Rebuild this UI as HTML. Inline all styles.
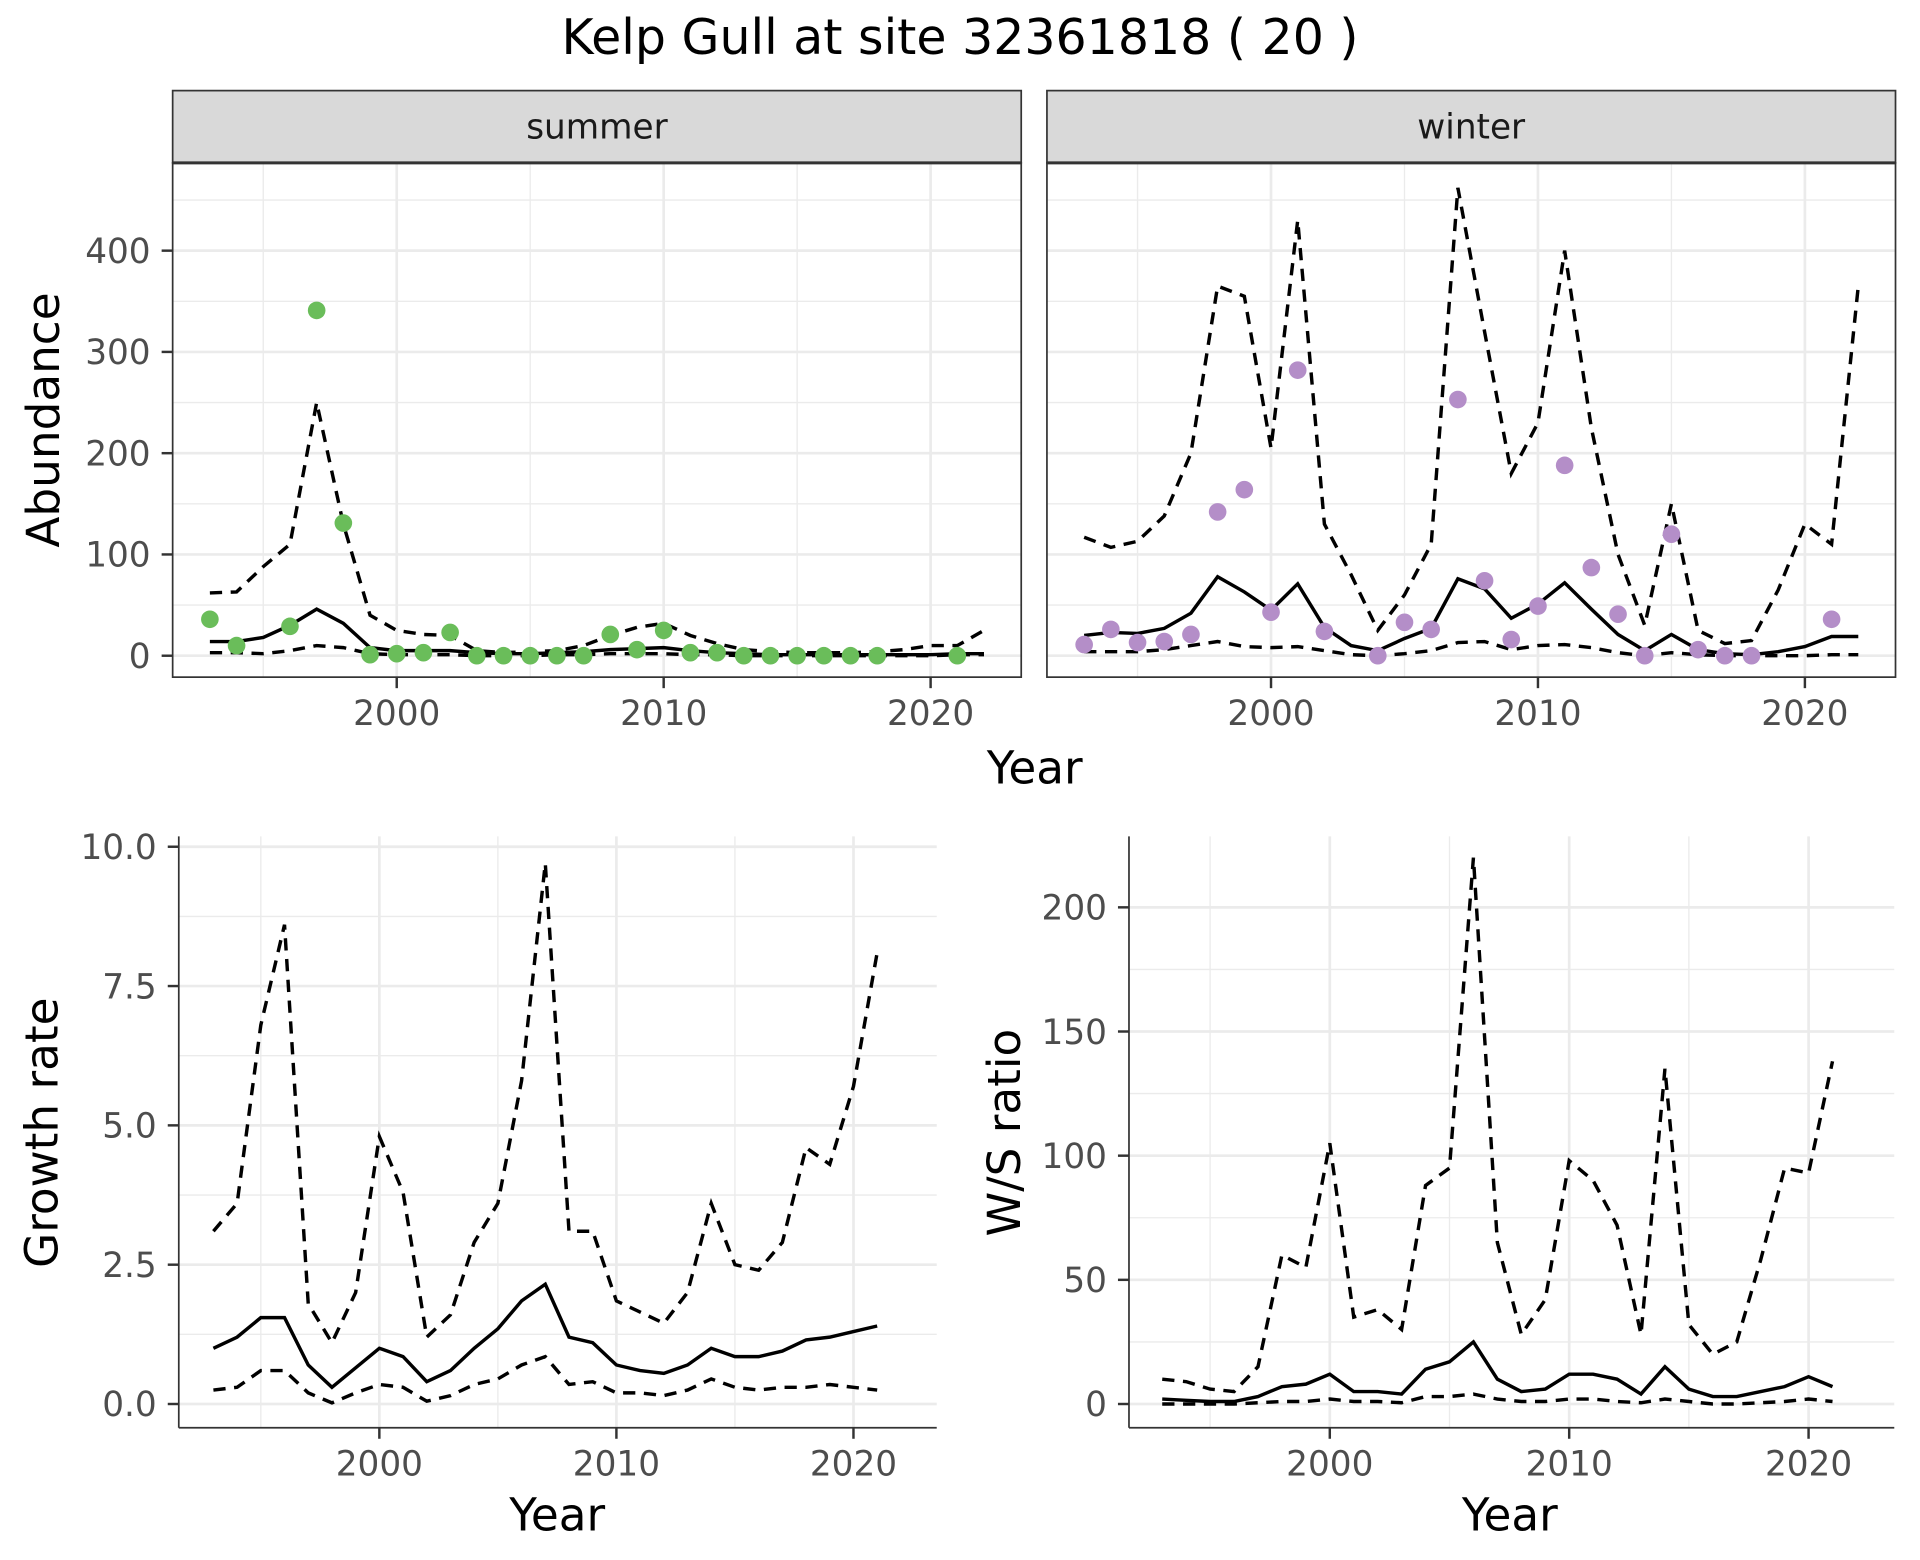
<!DOCTYPE html>
<html><head><meta charset="utf-8"><style>
html,body{margin:0;padding:0;background:#fff}
svg{display:block}
text{font-family:"DejaVu Sans","Liberation Sans",sans-serif}
</style></head><body>
<svg id="chart" width="1920" height="1560" viewBox="0 0 1568 1274" xmlns="http://www.w3.org/2000/svg">
<text x="784" y="44" font-size="40" text-anchor="middle" fill="#000">Kelp Gull at site 32361818 ( 20 )</text>
</svg>
<script>
const years=[];for(let y=1993;y<=2022;y++)years.push(y);
const sumPtYears=[1993,1994,1996,1997,1998,1999,2000,2001,2002,2003,2004,2005,2006,2007,2008,2009,2010,2011,2012,2013,2014,2015,2016,2017,2018,2021];
const sumPtVals=[36,10,29,341,131,1,2,3,23,0,0,0,0,0,21,6,25,3,3,0,0,0,0,0,0,0];
const sumMean=[14,14,18,30,46,32,8,5,5,5,3,2,2,3,4,6,7,8,5,3,2,1,1,1,1,1,1,1,2,2];
const sumUpper=[62,63,88,110,250,130,40,25,21,20,5,3,4,5,10,20,28,32,20,12,6,4,3,3,3,4,6,10,10,25];
const sumLower=[3,3,2,5,10,8,2,1,1,1,0,0,0,1,1,2,2,2,1,1,0,0,0,0,0,0,0,0,1,1];
const winPtYears=[1993,1994,1995,1996,1997,1998,1999,2000,2001,2002,2004,2005,2006,2007,2008,2009,2010,2011,2012,2013,2014,2015,2016,2017,2018,2021];
const winPtVals=[11,26,13,14,21,142,164,43,282,24,0,33,26,253,74,16,49,188,87,41,0,120,6,0,0,36];
const winMean=[20,23,22,27,42,78,63,45,71,28,10,5,17,27,76,66,37,51,72,46,21,5,21,6,2,1,4,9,19,19];
const winUpper=[117,107,113,138,200,365,355,205,430,130,80,25,60,110,462,320,180,230,400,225,100,30,150,25,12,15,65,130,110,365];
const winLower=[4,4,4,6,10,14,9,8,9,5,1,0,2,5,13,14,6,10,11,8,3,0,3,1,0,0,0,0,1,1];
const grYears=years.slice(0,29);
const grMean=[1.0,1.2,1.55,1.55,0.7,0.3,0.65,1.0,0.85,0.4,0.6,1.0,1.35,1.85,2.15,1.2,1.1,0.7,0.6,0.55,0.7,1.0,0.85,0.85,0.95,1.15,1.2,1.3,1.4];
const grUpper=[3.1,3.6,6.8,8.6,1.8,1.1,2.0,4.8,3.8,1.2,1.6,2.9,3.6,5.8,9.7,3.1,3.1,1.85,1.65,1.45,2.0,3.6,2.5,2.4,2.9,4.6,4.3,5.7,8.1];
const grLower=[0.25,0.3,0.6,0.6,0.2,0.02,0.2,0.35,0.3,0.05,0.15,0.35,0.45,0.7,0.85,0.35,0.4,0.2,0.2,0.15,0.25,0.45,0.3,0.25,0.3,0.3,0.35,0.3,0.25];
const wsMean=[2,1.5,1,1,3,7,8,12,5,5,4,14,17,25,10,5,6,12,12,10,4,15,6,3,3,5,7,11,7];
const wsUpper=[10,9,6,5,15,60,55,105,35,38,30,88,95,220,65,28,42,98,90,72,28,135,32,20,25,58,95,93,138];
const wsLower=[0,0,0,0,0.5,1,1,2,1,1,0.5,3,3,4,2,1,1,2,2,1,0.5,2,1,0,0,0.5,1,2,1];
const xTicks=[2000,2010,2020], xMinor=[1995,2005,2015];

const NS="http://www.w3.org/2000/svg";
const svg=document.getElementById('chart');
function el(tag,attrs,parent){const e=document.createElementNS(NS,tag);for(const k in attrs)e.setAttribute(k,attrs[k]);(parent||svg).appendChild(e);return e;}

function panel(o){
  const g=el('g',{});
  
  
  const sx=v=>o.x0+(v-o.xa)*(o.x1-o.x0)/(o.xb-o.xa);
  const sy=v=>o.y0+(v-o.ya)*(o.y1-o.y0)/(o.yb-o.ya);
  o.yMinor.forEach(v=>el('line',{x1:o.L,x2:o.R,y1:sy(v),y2:sy(v),stroke:'#ebebeb','stroke-width':1.1},g));
  xMinor.forEach(v=>el('line',{x1:sx(v),x2:sx(v),y1:o.T,y2:o.B,stroke:'#ebebeb','stroke-width':1.1},g));
  o.yTicks.forEach(v=>el('line',{x1:o.L,x2:o.R,y1:sy(v),y2:sy(v),stroke:'#ebebeb','stroke-width':2.2},g));
  xTicks.forEach(v=>el('line',{x1:sx(v),x2:sx(v),y1:o.T,y2:o.B,stroke:'#ebebeb','stroke-width':2.2},g));
  const line=(xs,ys,dash,name)=>{
    const p=el('polyline',{points:xs.map((x,i)=>sx(x)+','+sy(ys[i])).join(' '),fill:'none',stroke:'#000','stroke-width':2.8,'stroke-dasharray':dash||'none'},g);
    
    
  };
  o.lines.forEach(l=>line(l[0],l[1],l[2],l[3]));
  if(o.pts){o.pts[0].forEach((x,i)=>{
    const c=el('circle',{cx:sx(x),cy:sy(o.pts[1][i]),r:7.2,fill:o.color},g);
    
    
  });}
  if(o.full){el('rect',{x:o.L,y:o.T,width:o.R-o.L,height:o.B-o.T,fill:'none',stroke:'#333','stroke-width':1.4},g);}
  else{el('line',{x1:o.L,x2:o.L,y1:o.T,y2:o.B,stroke:'#333','stroke-width':1.4},g);el('line',{x1:o.L,x2:o.R,y1:o.B,y2:o.B,stroke:'#333','stroke-width':1.4},g);}
  if(o.yLabels){o.yTicks.forEach((v,i)=>{
    el('line',{x1:o.L-9,x2:o.L,y1:sy(v),y2:sy(v),stroke:'#333','stroke-width':2},g);
    const t=el('text',{x:o.L-18,y:sy(v)+10,'font-size':28,'text-anchor':'end',fill:'#4d4d4d'},g);t.textContent=o.yLabels[i];
    
  });}
  xTicks.forEach(v=>{
    el('line',{x1:sx(v),x2:sx(v),y1:o.B,y2:o.B+9,stroke:'#333','stroke-width':2},g);
    const t=el('text',{x:sx(v),y:o.B+39,'font-size':28,'text-anchor':'middle',fill:'#4d4d4d'},g);t.textContent=v;
    
  });
  if(o.strip){
    el('rect',{x:o.L,y:o.T-59,width:o.R-o.L,height:59,fill:'#d9d9d9',stroke:'#333','stroke-width':1.4},g);
    el('line',{x1:o.L,x2:o.R,y1:o.T,y2:o.T,stroke:'#333','stroke-width':2.5},g);
    const t=el('text',{x:(o.L+o.R)/2,y:o.T-20,'font-size':28,'text-anchor':'middle',fill:'#1a1a1a'},g);t.textContent=o.strip;
    
  }
}
function label(txt,x,y,rot,name){
  const t=el('text',{x:x,y:y,'font-size':37,'text-anchor':'middle',fill:'#000',transform:rot?`rotate(-90 ${x} ${y})`:''});
  t.textContent=txt;
}
const abT=[0,100,200,300,400];
const common={xa:2000,xb:2020,ya:0,yb:400,y0:535.5,y1:204.7,T:133,B:553,yTicks:abT,yMinor:[50,150,250,350,450],full:true};
panel(Object.assign({},common,{name:'summer-panel',L:141,R:834,x0:324,x1:760,yLabels:abT.map(String),strip:'summer',color:'#6abd5a',
  pts:[sumPtYears,sumPtVals],lines:[[years,sumMean,null,'summer-mean'],[years,sumUpper,'10,7','summer-upper'],[years,sumLower,'10,7','summer-lower']]}));
panel(Object.assign({},common,{name:'winter-panel',L:855,R:1548,x0:1038,x1:1474,strip:'winter',color:'#b48ec8',
  pts:[winPtYears,winPtVals],lines:[[years,winMean,null,'winter-mean'],[years,winUpper,'10,7','winter-upper'],[years,winLower,'10,7','winter-lower']]}));
label('Year',845,640,false,'x-axis-title-top');
label('Abundance',48,343,true,'y-axis-title-abundance');
const grT=[0,2.5,5,7.5,10];
panel({name:'growth-panel',L:146,R:765,T:683,B:1166,xa:2000,xb:2020,x0:309.8,x1:697,ya:0,yb:10,y0:1146.6,y1:691.5,yTicks:grT,yMinor:[1.25,3.75,6.25,8.75],yLabels:['0.0','2.5','5.0','7.5','10.0'],full:false,
  lines:[[grYears,grMean,null,'growth-mean'],[grYears,grUpper,'10,7','growth-upper'],[grYears,grLower,'10,7','growth-lower']]});
label('Year',455,1250,false,'x-axis-title-growth');
label('Growth rate',47,925,true,'y-axis-title-growth');
const wsT=[0,50,100,150,200];
panel({name:'ws-ratio-panel',L:922,R:1547,T:683,B:1166,xa:2000,xb:2020,x0:1086,x1:1477,ya:0,yb:200,y0:1146.6,y1:741,yTicks:wsT,yMinor:[25,75,125,175],yLabels:wsT.map(String),full:false,
  lines:[[grYears,wsMean,null,'ws-mean'],[grYears,wsUpper,'10,7','ws-upper'],[grYears,wsLower,'10,7','ws-lower']]});
label('Year',1233,1250,false,'x-axis-title-ws');
label('W/S ratio',833,925,true,'y-axis-title-ws');
</script>
</body></html>
